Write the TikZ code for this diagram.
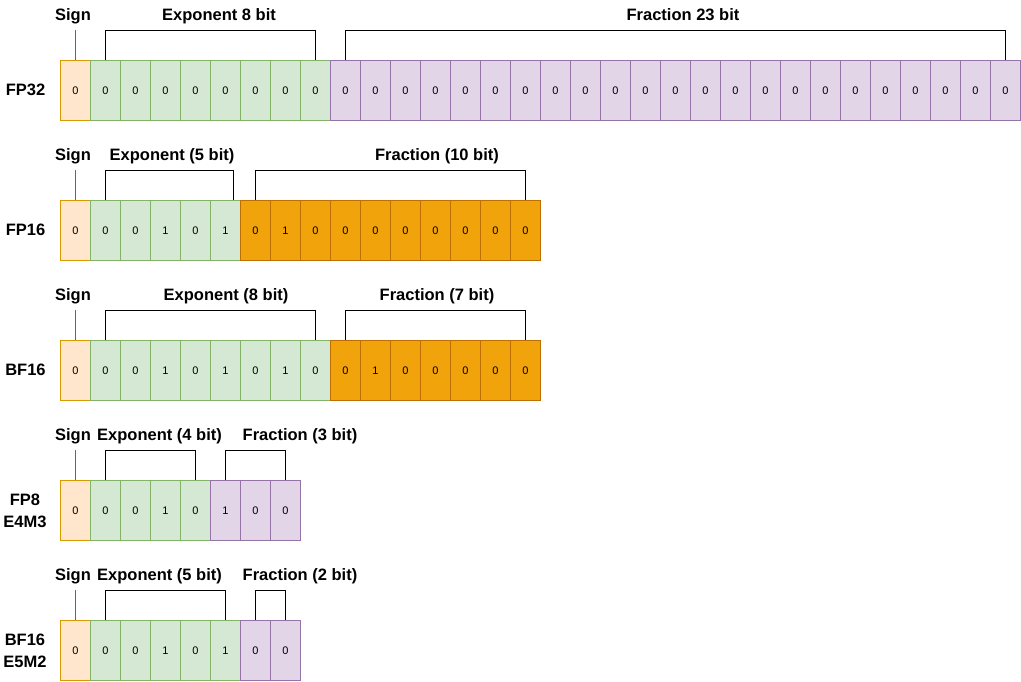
\documentclass[tikz,border=0pt]{standalone}
\usepackage{fontspec}
\setmainfont{Liberation Sans}
\definecolor{sfill}{HTML}{FFE6CC}\definecolor{sdraw}{HTML}{D79B00}
\definecolor{efill}{HTML}{D5E8D4}\definecolor{edraw}{HTML}{82B366}
\definecolor{ffill}{HTML}{E1D5E7}\definecolor{fdraw}{HTML}{9673A6}
\definecolor{ofill}{HTML}{F0A30A}\definecolor{odraw}{HTML}{BD7000}
\tikzset{
  cell/.style={draw, line width=1pt, minimum width=30pt, minimum height=60pt, inner sep=0pt, anchor=north west, font=\fontsize{11}{13}\selectfont},
  sgn/.style={cell, fill=sfill, draw=sdraw},
  expo/.style={cell, fill=efill, draw=edraw},
  frac/.style={cell, fill=ffill, draw=fdraw},
  ofrac/.style={cell, fill=ofill, draw=odraw},
  lbl/.style={anchor=base, inner sep=0pt, font=\fontsize{16.5}{20}\selectfont\bfseries},
  rowlbl/.style={anchor=base, inner sep=0pt, align=center, font=\fontsize{16.5}{22}\selectfont\bfseries},
  brk/.style={draw=black, line width=1pt},
  sline/.style={draw=black!60, line width=1pt}
}
\begin{document}
\begin{tikzpicture}[x=1pt,y=-1pt]
\useasboundingbox (0,0) rectangle (1021,681);
% ---------- FP32 ----------
\node[sgn] (a0) at (60,60) {0};
\foreach \v [count=\i from 1] in {0,0,0,0,0,0,0,0}
  \node[expo] (a\i) at ({60+30*\i},60) {\v};
\foreach \v [count=\i from 9] in {0,0,0,0,0,0,0,0,0,0,0,0,0,0,0,0,0,0,0,0,0,0,0}
  \node[frac] (a\i) at ({60+30*\i},60) {\v};
\node[rowlbl] (la) at (25.5,95) {FP32};
\node[lbl] (sa) at (73,20) {Sign};
\node[lbl] (ea) at (219,20) {Exponent 8 bit};
\node[lbl] (fa) at (683,20) {Fraction 23 bit};
\draw[sline] (a0.north) -- ++(0,-30);
\draw[brk] (a1.north) -- ++(0,-30) -| (a8.north);
\draw[brk] (a9.north) -- ++(0,-30) -| (a31.north);
% ---------- FP16 ----------
\node[sgn] (b0) at (60,200) {0};
\foreach \v [count=\i from 1] in {0,0,1,0,1}
  \node[expo] (b\i) at ({60+30*\i},200) {\v};
\foreach \v [count=\i from 6] in {0,1,0,0,0,0,0,0,0,0}
  \node[ofrac] (b\i) at ({60+30*\i},200) {\v};
\node[rowlbl] (lb) at (25.5,235) {FP16};
\node[lbl] (sb) at (73,160) {Sign};
\node[lbl] (eb) at (172,160) {Exponent (5 bit)};
\node[lbl] (fb) at (437,160) {Fraction (10 bit)};
\draw[sline] (b0.north) -- ++(0,-30);
\draw[brk] (b1.north) -- ++(0,-30) -| ([xshift=8pt]b5.north);
\draw[brk] (b6.north) -- ++(0,-30) -| (b15.north);
% ---------- BF16 ----------
\node[sgn] (c0) at (60,340) {0};
\foreach \v [count=\i from 1] in {0,0,1,0,1,0,1,0}
  \node[expo] (c\i) at ({60+30*\i},340) {\v};
\foreach \v [count=\i from 9] in {0,1,0,0,0,0,0}
  \node[ofrac] (c\i) at ({60+30*\i},340) {\v};
\node[rowlbl] (lc) at (25.5,375) {BF16};
\node[lbl] (sc) at (73,300) {Sign};
\node[lbl] (ec) at (226,300) {Exponent (8 bit)};
\node[lbl] (fc) at (437,300) {Fraction (7 bit)};
\draw[sline] (c0.north) -- ++(0,-30);
\draw[brk] (c1.north) -- ++(0,-30) -| (c8.north);
\draw[brk] (c9.north) -- ++(0,-30) -| (c15.north);
% ---------- FP8 E4M3 ----------
\node[sgn] (d0) at (60,480) {0};
\foreach \v [count=\i from 1] in {0,0,1,0}
  \node[expo] (d\i) at ({60+30*\i},480) {\v};
\foreach \v [count=\i from 5] in {1,0,0}
  \node[frac] (d\i) at ({60+30*\i},480) {\v};
\node[rowlbl] (ld) at (25,527) {FP8\\E4M3};
\node[lbl] (sd) at (73,440) {Sign};
\node[lbl] (ed) at (159.5,440) {Exponent (4 bit)};
\node[lbl] (fd) at (300,440) {Fraction (3 bit)};
\draw[sline] (d0.north) -- ++(0,-30);
\draw[brk] (d1.north) -- ++(0,-30) -| (d4.north);
\draw[brk] (d5.north) -- ++(0,-30) -| (d7.north);
% ---------- BF16 E5M2 ----------
\node[sgn] (e0) at (60,620) {0};
\foreach \v [count=\i from 1] in {0,0,1,0,1}
  \node[expo] (e\i) at ({60+30*\i},620) {\v};
\foreach \v [count=\i from 6] in {0,0}
  \node[frac] (e\i) at ({60+30*\i},620) {\v};
\node[rowlbl] (le) at (25,667) {BF16\\E5M2};
\node[lbl] (se) at (73,580) {Sign};
\node[lbl] (ee) at (159.5,580) {Exponent (5 bit)};
\node[lbl] (fe) at (300,580) {Fraction (2 bit)};
\draw[sline] (e0.north) -- ++(0,-30);
\draw[brk] (e1.north) -- ++(0,-30) -| (e5.north);
\draw[brk] (e6.north) -- ++(0,-30) -| (e7.north);
\end{tikzpicture}
\end{document}
